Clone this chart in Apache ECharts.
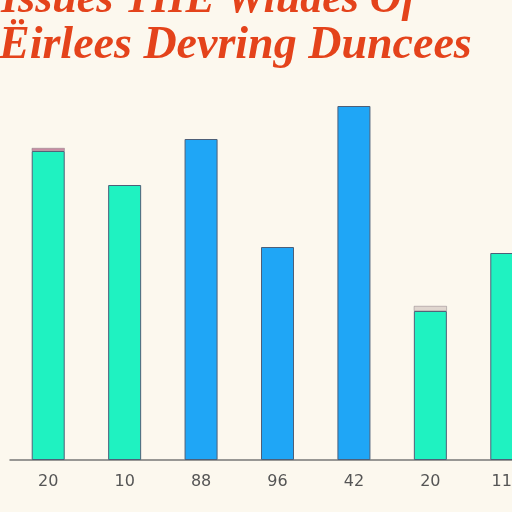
<!DOCTYPE html>
<html>
<head>
<meta charset="utf-8">
<script src="https://cdn.jsdelivr.net/npm/echarts@6/dist/echarts.min.js"></script>
<style>
html,body{margin:0;padding:0;background:#fcf8ee;}
#c{width:512px;height:512px;}
</style>
</head>
<body>
<div id="c"></div>
<script>
var titleLine1 = "Issues THE Wiudes Of";
var titleLine2 = "Ëirlees Devring Duncees";
var categories = ["20", "10", "88", "96", "42", "20", "118"];
var values = [309, 275, 321, 213, 354, 149, 207];
var capValues = [3, "-", "-", "-", "-", 5, "-"];
var barKinds = ["teal", "teal", "blue", "blue", "blue", "teal", "teal"];
var capKinds = ["pink", null, null, null, null, "gray", null];

var palette = { teal: "#1ff2c1", blue: "#1fa6f6", pink: "#c98ca3", gray: "#e0d6cf" };

var chart = echarts.init(document.getElementById('c'));
chart.setOption({
  backgroundColor: "#fcf8ee",
  animation: false,
  title: [
    { text: titleLine1, left: -4, top: -26,
      textStyle: { fontFamily: "Liberation Serif", fontStyle: "italic", fontWeight: "bold", fontSize: 44, color: "#e4431b" } },
    { text: titleLine2, left: -6, top: 18,
      textStyle: { fontFamily: "Liberation Serif", fontStyle: "italic", fontWeight: "bold", fontSize: 46, color: "#e4431b" } }
  ],
  grid: { left: 10, top: 60, width: 535, height: 400, containLabel: false, outerBoundsMode: "none" },
  xAxis: {
    type: "category",
    data: categories,
    axisLine: { lineStyle: { color: "#777777", width: 1.5 } },
    axisTick: { show: false },
    axisLabel: { color: "#555555", fontSize: 16, fontFamily: "DejaVu Sans", margin: 14 }
  },
  yAxis: {
    type: "value", min: 0, max: 400,
    show: false
  },
  series: [
    {
      type: "bar", stack: "a", barWidth: 33,
      data: values.map(function (v, i) {
        return { value: v, itemStyle: { color: palette[barKinds[i]] } };
      }),
      itemStyle: { borderColor: "#4d5f78", borderWidth: 1 }
    },
    {
      type: "bar", stack: "a", barWidth: 33,
      data: capValues.map(function (v, i) {
        return { value: v, itemStyle: { color: capKinds[i] ? palette[capKinds[i]] : "transparent" } };
      }),
      itemStyle: { borderColor: "#8a7f85", borderWidth: 0.5 }
    }
  ]
});
</script>
</body>
</html>
